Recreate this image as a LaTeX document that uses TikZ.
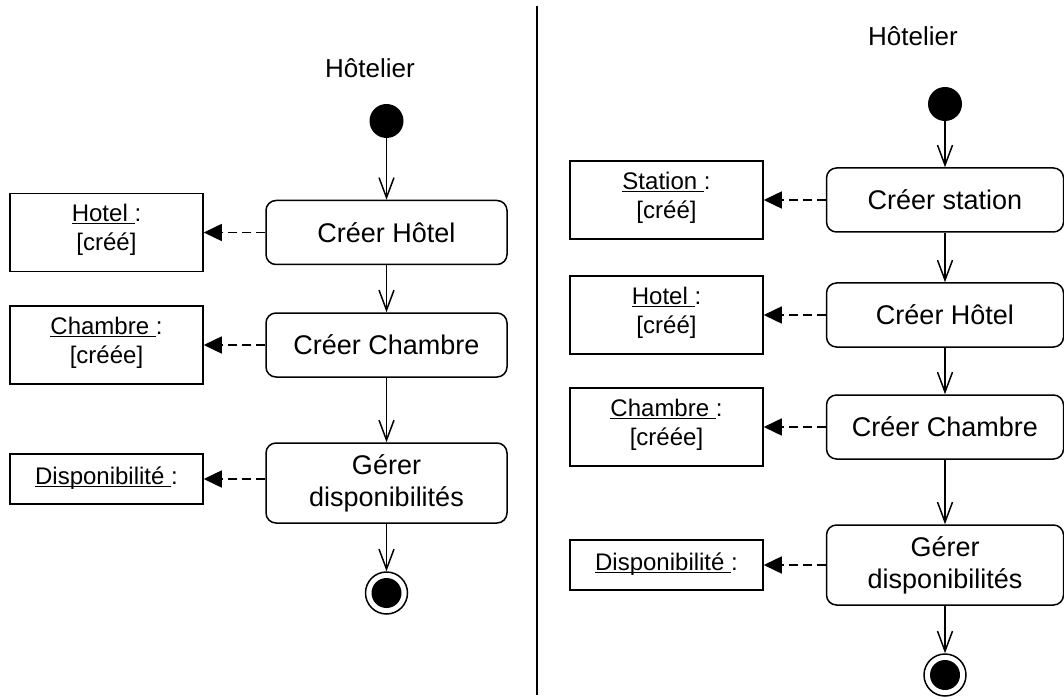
\documentclass[tikz,border=0pt]{standalone}
\usepackage{fontspec}
\setmainfont{Liberation Sans}
\usepackage{tikz}
\usetikzlibrary{arrows.meta,positioning}
\definecolor{cInk}{HTML}{000000}
\newcommand{\objname}[1]{\underline{\smash{#1\ }}:}
\tikzset{
  actbox/.style={draw=cInk,rounded corners=10pt,line width=1.5pt,align=center,font=\fontsize{27}{32}\selectfont,
    minimum width=241pt,minimum height=#1,inner sep=2pt},
  actbox/.default=64pt,
  objbox/.style={draw=cInk,line width=1.5pt,align=center,font=\fontsize{24}{29}\selectfont,
    minimum width=193pt,minimum height=#1,inner sep=2pt},
  objbox/.default=78pt,
  initial/.style={circle,fill=cInk,minimum size=34pt,inner sep=0pt},
  final/.style={circle,draw=cInk,line width=1.5pt,minimum size=42pt,inner sep=0pt,
    path picture={\fill[cInk] (path picture bounding box.center) circle (15pt);}},
  flow/.style={-{Straight Barb[length=20pt,width=15pt,line width=1.5pt]},line width=1.5pt,color=cInk},
  dep/.style={-{Triangle[length=18pt,width=17pt]},dash pattern=on 9pt off 5pt,line width=1.5pt,color=cInk},
  lane/.style={font=\fontsize{26}{30}\selectfont,text=cInk},
}
\begin{document}
\begin{tikzpicture}[x=1pt,y=-1pt]
  \useasboundingbox (0,0) rectangle (1064,700);
  % left diagram
  \node[lane] (lhead) at (370,68) {Hôtelier};
  \node[initial] (lstart) at (386.5,121) {};
  \node[actbox] (lact1) at (386.5,232.5) {Créer Hôtel};
  \node[actbox] (lact2) at (386.5,345) {Créer Chambre};
  \node[actbox=80pt] (lact3) at (386.5,483) {Gérer\\disponibilités};
  \node[final] (lend) at (386.5,593) {};
  \node[objbox] (lobj1) at (106.5,232.5) {\objname{Hotel}\\{}[créé]};
  \node[objbox] (lobj2) at (106.5,345) {\objname{Chambre}\\{}[créée]};
  \node[objbox=50pt] (lobj3) at (106.5,479) {\objname{Disponibilité}};
  \draw[flow] (lstart) -- (lact1);
  \draw[flow] (lact1) -- (lact2);
  \draw[flow] (lact2) -- (lact3);
  \draw[flow] (lact3) -- (lend);
  \draw[dep] (lact1.west) -- (lobj1.east);
  \draw[dep] (lact2.west) -- (lobj2.east);
  \draw[dep] (lobj3.east -| lact3.west) -- (lobj3.east);
  % separator
  \coordinate (septop) at (537,6);
  \coordinate (sepbot) at (537,695);
  \draw[line width=1.5pt,cInk] (septop) -- (sepbot);
  % right diagram
  \node[lane] (rhead) at (913,36) {Hôtelier};
  \node[initial] (rstart) at (945,104) {};
  \node[actbox,minimum width=237pt] (ract1) at (945,200) {Créer station};
  \node[actbox,minimum width=237pt] (ract2) at (945,315) {Créer Hôtel};
  \node[actbox,minimum width=237pt] (ract3) at (945,427) {Créer Chambre};
  \node[actbox=80pt,minimum width=237pt] (ract4) at (945,565) {Gérer\\disponibilités};
  \node[final] (rend) at (945,675) {};
  \node[objbox] (robj1) at (666.5,200) {\objname{Station}\\{}[créé]};
  \node[objbox] (robj2) at (666.5,315) {\objname{Hotel}\\{}[créé]};
  \node[objbox] (robj3) at (666.5,427) {\objname{Chambre}\\{}[créée]};
  \node[objbox=50pt] (robj4) at (666.5,565) {\objname{Disponibilité}};
  \draw[flow] (rstart) -- (ract1);
  \draw[flow] (ract1) -- (ract2);
  \draw[flow] (ract2) -- (ract3);
  \draw[flow] (ract3) -- (ract4);
  \draw[flow] (ract4) -- (rend);
  \draw[dep] (ract1.west) -- (robj1.east);
  \draw[dep] (ract2.west) -- (robj2.east);
  \draw[dep] (ract3.west) -- (robj3.east);
  \draw[dep] (ract4.west) -- (robj4.east);
\end{tikzpicture}
\end{document}
